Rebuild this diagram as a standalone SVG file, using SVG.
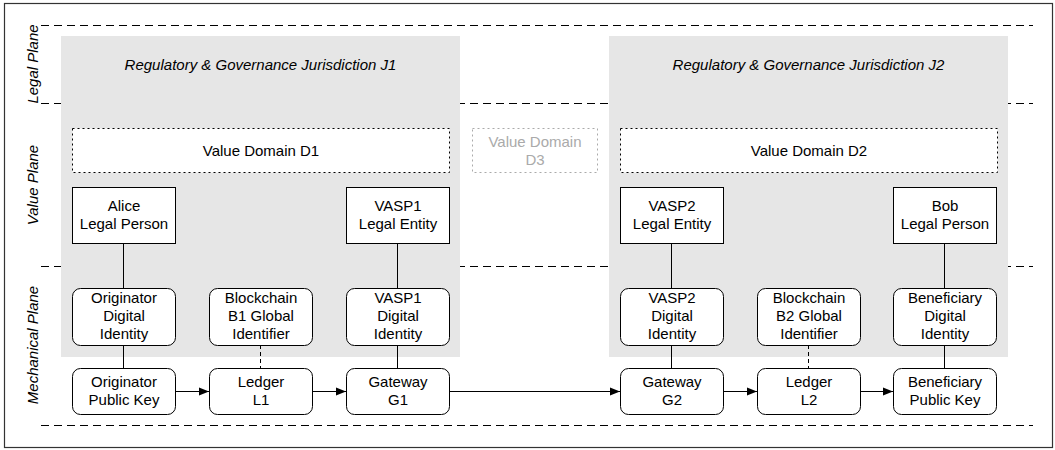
<svg xmlns="http://www.w3.org/2000/svg" width="1055" height="450" viewBox="0 0 1055 450">
<defs>
<marker id="arr" viewBox="0 0 10 10" refX="10" refY="5" markerWidth="10" markerHeight="10" markerUnits="userSpaceOnUse" orient="auto">
<path d="M0,1 L10,5 L0,9 Z" fill="#000"/>
</marker>
<style>
text{font-family:"Liberation Sans",Arial,Helvetica,sans-serif;font-size:15px;fill:#000;text-anchor:middle}
.it{font-style:italic}
.plane{stroke:#000;stroke-width:1;stroke-dasharray:8 5;fill:none}
.juris{fill:#e6e6e6;stroke:none}
.dom{fill:#fff;stroke:#000;stroke-width:1;stroke-dasharray:2 3}
.dom3{fill:#fff;stroke:#aaa;stroke-width:1;stroke-dasharray:2 3}
.gray{fill:#aaa}
.box{fill:#fff;stroke:#000;stroke-width:1}
.link{stroke:#000;stroke-width:1;fill:none}
.dash{stroke:#000;stroke-width:1;fill:none;stroke-dasharray:4 3}
.flow{stroke:#000;stroke-width:1;fill:none;marker-end:url(#arr)}
</style>
</defs>
<rect x="4.5" y="3.5" width="1048" height="444" fill="#fff" stroke="#333" stroke-width="1.2"/>
<g id="planes">
<line class="plane" x1="41" y1="25.5" x2="1033" y2="25.5"/>
<line class="plane" x1="41" y1="103.5" x2="1033" y2="103.5"/>
<line class="plane" x1="41" y1="266.5" x2="1033" y2="266.5"/>
<line class="plane" x1="41" y1="425.5" x2="1033" y2="425.5"/>
<text class="it" transform="translate(38,64) rotate(-90)">Legal Plane</text>
<text class="it" transform="translate(38,185) rotate(-90)">Value Plane</text>
<text class="it" transform="translate(38,345) rotate(-90)">Mechanical Plane</text>
</g>
<g id="j1">
<rect class="juris" x="61" y="36" width="399" height="321"/>
<text class="it" x="260.5" y="70">Regulatory &amp; Governance Jurisdiction J1</text>
</g>
<g id="j2">
<rect class="juris" x="609" y="36" width="399" height="321"/>
<text class="it" x="808.5" y="70">Regulatory &amp; Governance Jurisdiction J2</text>
</g>
<g id="d1">
<rect class="dom" x="72.5" y="128.5" width="377" height="44"/>
<text x="261" y="156">Value Domain D1</text>
</g>
<g id="d2">
<rect class="dom" x="620.5" y="128.5" width="377" height="44"/>
<text x="809" y="156">Value Domain D2</text>
</g>
<g id="d3">
<rect class="dom3" x="472.5" y="128.5" width="125" height="44"/>
<text class="gray" x="535" y="147">Value Domain</text>
<text class="gray" x="535" y="165">D3</text>
</g>
<g id="connectors">
<line class="link" x1="123.5" y1="243" x2="123.5" y2="288"/>
<line class="link" x1="397.5" y1="243" x2="397.5" y2="288"/>
<line class="link" x1="671.5" y1="243" x2="671.5" y2="288"/>
<line class="link" x1="944.5" y1="243" x2="944.5" y2="288"/>
<line class="link" x1="123.5" y1="345" x2="123.5" y2="368"/>
<line class="dash" x1="260.5" y1="345" x2="260.5" y2="368"/>
<line class="link" x1="397.5" y1="345" x2="397.5" y2="368"/>
<line class="link" x1="671.5" y1="345" x2="671.5" y2="368"/>
<line class="dash" x1="808.5" y1="345" x2="808.5" y2="368"/>
<line class="link" x1="944.5" y1="345" x2="944.5" y2="368"/>
<line class="flow" x1="175.5" y1="391.5" x2="209" y2="391.5"/>
<line class="flow" x1="312.5" y1="391.5" x2="346" y2="391.5"/>
<line class="flow" x1="449.5" y1="391.5" x2="620" y2="391.5"/>
<line class="flow" x1="723.5" y1="391.5" x2="757" y2="391.5"/>
<line class="flow" x1="860.5" y1="391.5" x2="893" y2="391.5"/>
</g>
<g id="alice">
<rect class="box" x="72.5" y="187.5" width="103" height="56"/>
<text x="124" y="211">Alice</text><text x="124" y="229">Legal Person</text>
</g>
<g id="vasp1-le">
<rect class="box" x="346.5" y="187.5" width="103" height="56"/>
<text x="398" y="211">VASP1</text><text x="398" y="229">Legal Entity</text>
</g>
<g id="vasp2-le">
<rect class="box" x="620.5" y="187.5" width="103" height="56"/>
<text x="672" y="211">VASP2</text><text x="672" y="229">Legal Entity</text>
</g>
<g id="bob">
<rect class="box" x="893.5" y="187.5" width="103" height="56"/>
<text x="945" y="211">Bob</text><text x="945" y="229">Legal Person</text>
</g>
<g id="orig-di">
<rect class="box" x="72.5" y="288.5" width="103" height="57" rx="8"/>
<text x="124" y="303">Originator</text><text x="124" y="321">Digital</text><text x="124" y="339">Identity</text>
</g>
<g id="b1">
<rect class="box" x="209.5" y="288.5" width="103" height="57" rx="8"/>
<text x="261" y="303">Blockchain</text><text x="261" y="321">B1 Global</text><text x="261" y="339">Identifier</text>
</g>
<g id="vasp1-di">
<rect class="box" x="346.5" y="288.5" width="103" height="57" rx="8"/>
<text x="398" y="303">VASP1</text><text x="398" y="321">Digital</text><text x="398" y="339">Identity</text>
</g>
<g id="vasp2-di">
<rect class="box" x="620.5" y="288.5" width="103" height="57" rx="8"/>
<text x="672" y="303">VASP2</text><text x="672" y="321">Digital</text><text x="672" y="339">Identity</text>
</g>
<g id="b2">
<rect class="box" x="757.5" y="288.5" width="103" height="57" rx="8"/>
<text x="809" y="303">Blockchain</text><text x="809" y="321">B2 Global</text><text x="809" y="339">Identifier</text>
</g>
<g id="ben-di">
<rect class="box" x="893.5" y="288.5" width="103" height="57" rx="8"/>
<text x="945" y="303">Beneficiary</text><text x="945" y="321">Digital</text><text x="945" y="339">Identity</text>
</g>
<g id="orig-pk">
<rect class="box" x="72.5" y="368.5" width="103" height="46" rx="8"/>
<text x="124" y="387">Originator</text><text x="124" y="405">Public Key</text>
</g>
<g id="l1">
<rect class="box" x="209.5" y="368.5" width="103" height="46" rx="8"/>
<text x="261" y="387">Ledger</text><text x="261" y="405">L1</text>
</g>
<g id="g1">
<rect class="box" x="346.5" y="368.5" width="103" height="46" rx="8"/>
<text x="398" y="387">Gateway</text><text x="398" y="405">G1</text>
</g>
<g id="g2">
<rect class="box" x="620.5" y="368.5" width="103" height="46" rx="8"/>
<text x="672" y="387">Gateway</text><text x="672" y="405">G2</text>
</g>
<g id="l2">
<rect class="box" x="757.5" y="368.5" width="103" height="46" rx="8"/>
<text x="809" y="387">Ledger</text><text x="809" y="405">L2</text>
</g>
<g id="ben-pk">
<rect class="box" x="893.5" y="368.5" width="103" height="46" rx="8"/>
<text x="945" y="387">Beneficiary</text><text x="945" y="405">Public Key</text>
</g>
</svg>
